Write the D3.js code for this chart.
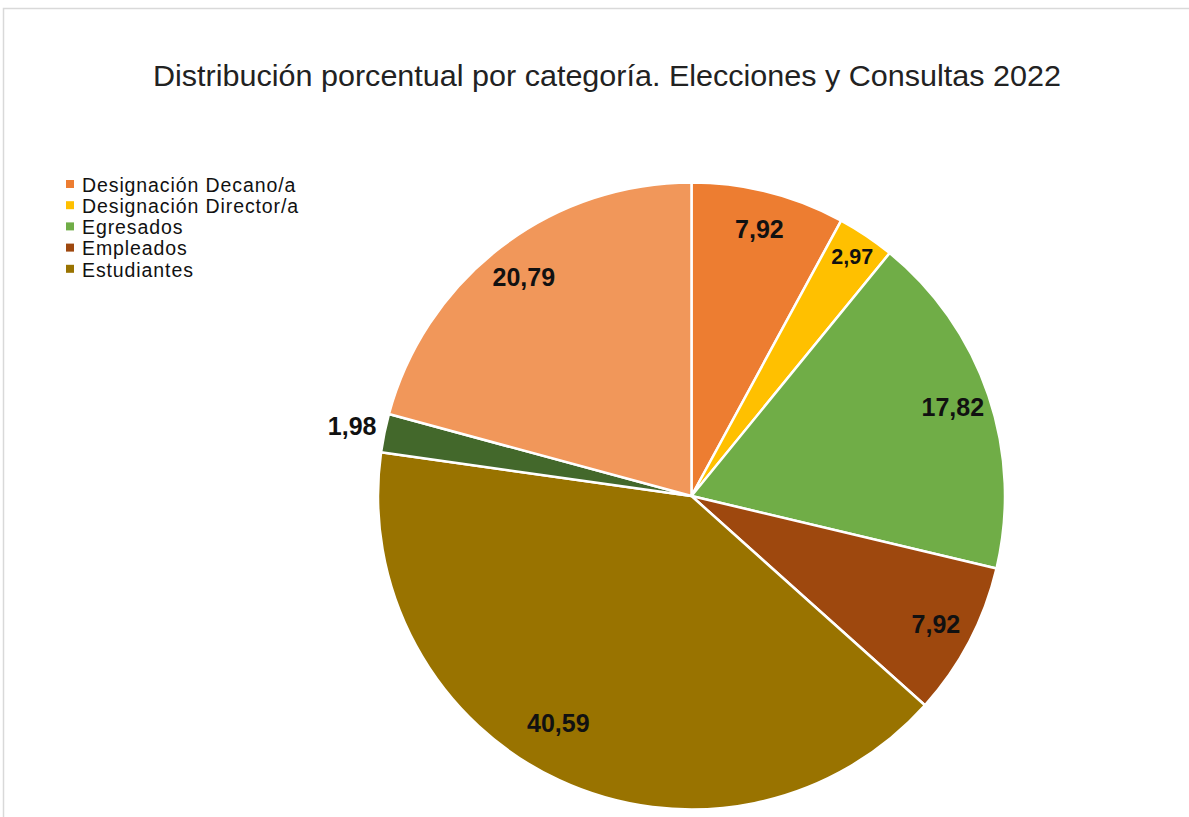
<!DOCTYPE html>
<html><head><meta charset="utf-8">
<script src="https://cdn.jsdelivr.net/npm/d3@7"></script>
<style>html,body{margin:0;padding:0;background:#fff;overflow:hidden}</style>
</head><body>
<script>
const title = "Distribución porcentual por categoría. Elecciones y Consultas 2022";
const categories = ["Designación Decano/a","Designación Director/a","Egresados","Empleados","Estudiantes","Categoría 6","Categoría 7"];
const values = [7.92, 2.97, 17.82, 7.92, 40.59, 1.98, 20.79];
const labels = ["7,92","2,97","17,82","7,92","40,59","1,98","20,79"];
const colors = ["#ED7D31","#FFC000","#70AD47","#9E480E","#997300","#43682B","#F1975A"];
const legendCount = 5;

const W = 1189, H = 817;
const font = "Liberation Sans, Arial, sans-serif";
const svg = d3.select("body").append("svg").attr("width", W).attr("height", H);
svg.append("rect").attr("width", W).attr("height", H).attr("fill", "#fff");
svg.append("rect").attr("x", 3.5).attr("y", 8.5).attr("width", W + 10).attr("height", H + 10)
  .attr("fill", "none").attr("stroke", "#d9d9d9").attr("stroke-width", 1.5);

svg.append("text").attr("x", 607).attr("y", 86).attr("text-anchor", "middle")
  .attr("font-family", font).attr("font-size", 29)
  .attr("textLength", 908).attr("lengthAdjust", "spacingAndGlyphs")
  .attr("fill", "#222").text(title);

const cx = 691.5, cy = 496, R = 313.5;
const data = values.map((v, i) => ({v, i}));
const pie = d3.pie().value(d => d.v).sort(null);
const arcs = pie(data);
const arc = d3.arc().innerRadius(0).outerRadius(R);
const g = svg.append("g").attr("transform", `translate(${cx},${cy})`);
g.selectAll("path").data(arcs).join("path")
  .attr("d", arc).attr("fill", d => colors[d.data.i])
  .attr("stroke", "#fff").attr("stroke-width", 2.5).attr("stroke-linejoin", "round");

const inArc = d3.arc().innerRadius(R * 0.88).outerRadius(R * 0.88);
const smallArc = d3.arc().innerRadius(R * 0.92).outerRadius(R * 0.92);
const outArc = d3.arc().innerRadius(R * 1.105).outerRadius(R * 1.105);
function labelPos(d) {
  const v = d.data.v;
  if (v < 2.5) return outArc.centroid(d);
  if (v < 4) return smallArc.centroid(d);
  if (v > 30) {
    const a = (d.startAngle + d.endAngle) / 2 + 0.095;
    return [Math.sin(a) * R * 0.84, -Math.cos(a) * R * 0.84];
  }
  return inArc.centroid(d);
}
g.selectAll("text.lbl").data(arcs).join("text").attr("class", "lbl")
  .attr("transform", d => `translate(${labelPos(d)})`)
  .attr("text-anchor", "middle").attr("dy", "0.36em")
  .attr("font-family", font).attr("font-weight", "bold")
  .attr("font-size", d => (d.data.v >= 2.5 && d.data.v < 4) ? 21.5 : 25).attr("fill", "#111")
  .text(d => labels[d.data.i]);

const leg = svg.append("g").attr("transform", "translate(66,185)");
const items = leg.selectAll("g").data(categories.slice(0, legendCount)).join("g")
  .attr("transform", (d, i) => `translate(0,${i * 21.2})`);
items.append("rect").attr("x", 0).attr("y", -5).attr("width", 8).attr("height", 8)
  .attr("fill", (d, i) => colors[i]);
items.append("text").attr("x", 16).attr("y", 0).attr("dy", "0.35em")
  .attr("font-family", font).attr("font-size", 19.5).attr("letter-spacing", 0.9)
  .attr("fill", "#111").text(d => d);
</script>
</body></html>
